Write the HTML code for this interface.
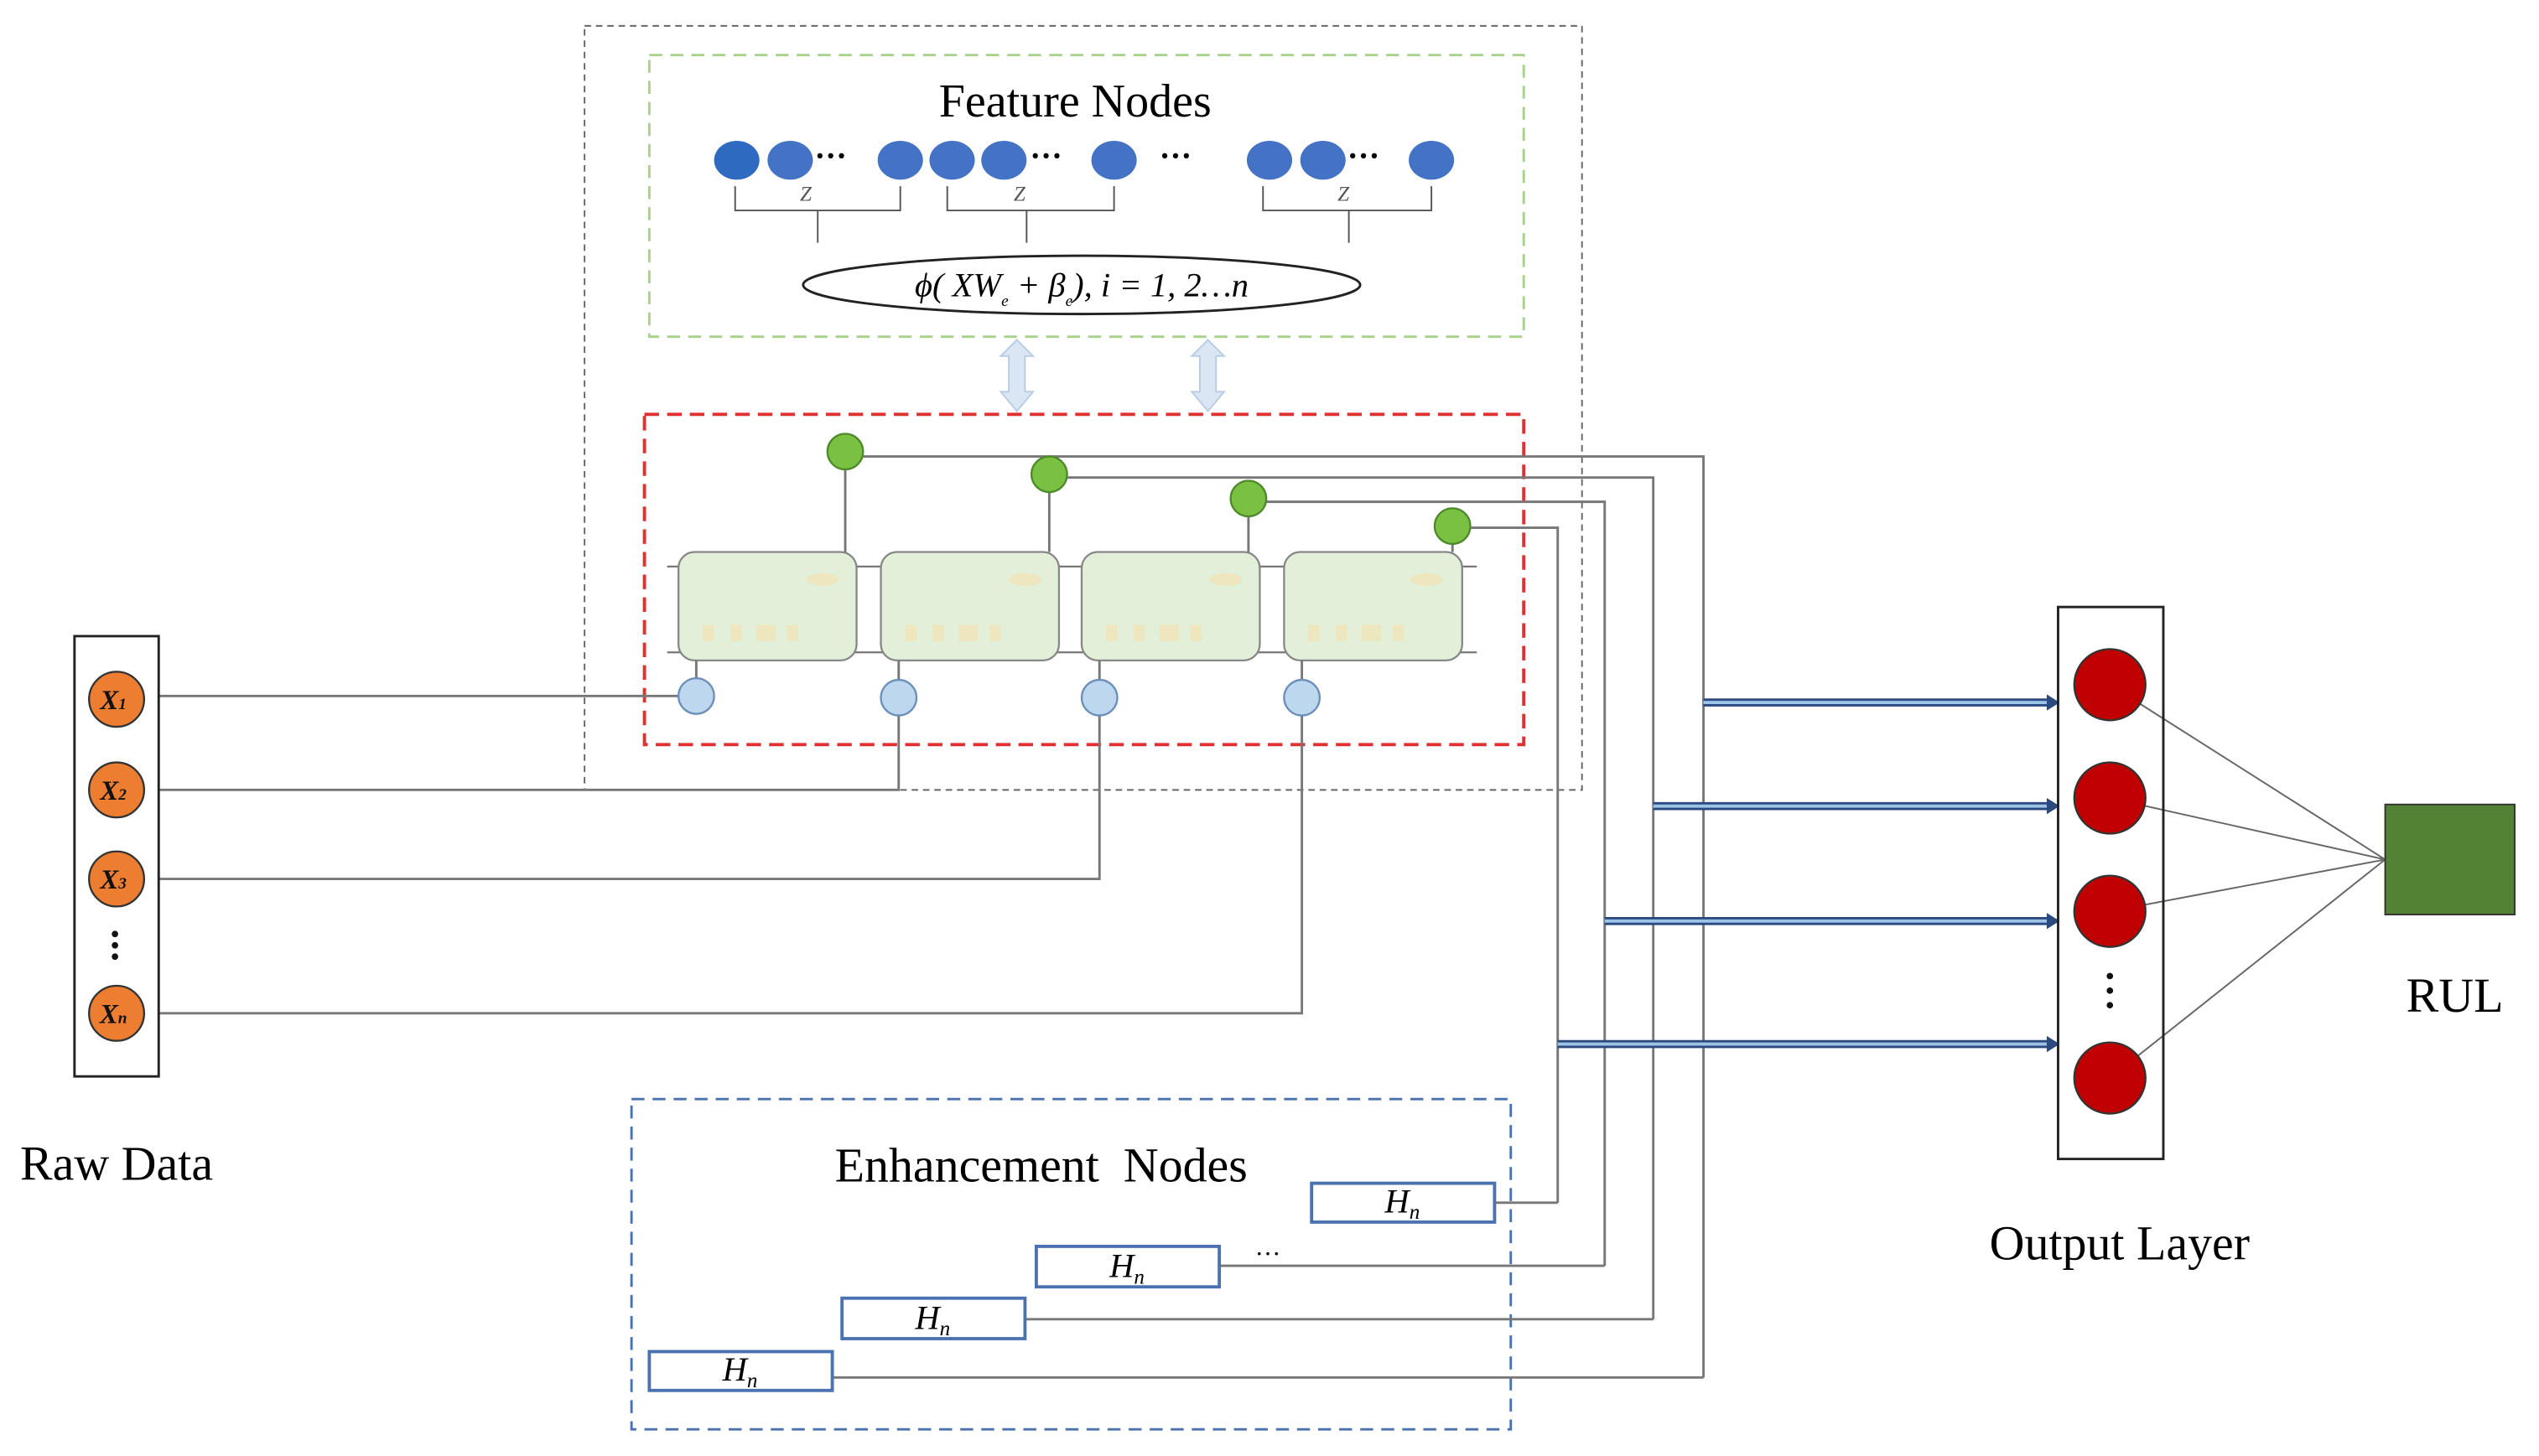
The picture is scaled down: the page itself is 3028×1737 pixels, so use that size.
<!DOCTYPE html>
<html><head><style>html,body{margin:0;padding:0;background:#fff}svg{display:block}</style></head><body>
<svg width="3028" height="1737" viewBox="0 0 1568 899.5" preserveAspectRatio="none" xmlns="http://www.w3.org/2000/svg" font-family="'Liberation Serif', serif">
<rect x="361" y="16" width="616" height="472" fill="none" stroke="#666" stroke-width="1" stroke-dasharray="4,3"/>
<rect x="401" y="34" width="540" height="174" fill="none" stroke="#a9d18e" stroke-width="1.5" stroke-dasharray="8,5"/>
<rect x="398" y="256" width="543" height="204" fill="none" stroke="#e03030" stroke-width="2" stroke-dasharray="9,5"/>
<rect x="390" y="679" width="543" height="204" fill="none" stroke="#4a72b0" stroke-width="1.5" stroke-dasharray="8,5"/>
<text x="664" y="72" font-size="29" text-anchor="middle">Feature Nodes</text>
<g fill="#4472c4">
<ellipse cx="455" cy="99" rx="14" ry="12" fill="#2e6bc0"/><ellipse cx="488" cy="99" rx="14" ry="12"/><ellipse cx="556" cy="99" rx="14" ry="12"/>
<ellipse cx="588" cy="99" rx="14" ry="12"/><ellipse cx="620" cy="99" rx="14" ry="12"/><ellipse cx="688" cy="99" rx="14" ry="12"/>
<ellipse cx="784" cy="99" rx="14" ry="12"/><ellipse cx="817" cy="99" rx="14" ry="12"/><ellipse cx="884" cy="99" rx="14" ry="12"/>
</g>
<g font-size="20" font-weight="bold" fill="#000">
<text x="503" y="103">···</text><text x="636" y="103">···</text><text x="716" y="103">···</text><text x="832" y="103">···</text>
</g>
<g fill="none" stroke="#555" stroke-width="1">
<path d="M454 115V130H556V115M505 130V150"/>
<path d="M585 115V130H688V115M634 130V150"/>
<path d="M780 115V130H884V115M833 130V150"/>
</g>
<g font-size="13" font-style="italic" fill="#555"><text x="494" y="124">Z</text><text x="626" y="124">Z</text><text x="826" y="124">Z</text></g>
<ellipse cx="668" cy="176" rx="172" ry="18" fill="#fff" stroke="#222" stroke-width="1.5"/>
<text x="668" y="183" font-size="21" font-style="italic" text-anchor="middle">ϕ( XW<tspan font-size="10" dy="6">e</tspan><tspan dy="-6"> + β</tspan><tspan font-size="10" dy="6">e</tspan><tspan dy="-6">), i = 1, 2…n</tspan></text>
<g fill="#dbe6f4" stroke="#b8cce4" stroke-width="1">
<path d="M628 210l10 10h-5v22h5l-10 12-10-12h5v-22h-5z"/>
<path d="M746 210l10 10h-5v22h5l-10 12-10-12h5v-22h-5z"/>
</g>
<g stroke="#777" stroke-width="1.2"><line x1="412" y1="350" x2="912" y2="350"/><line x1="412" y1="403" x2="912" y2="403"/></g>
<g fill="#e3f0d9" stroke="#888" stroke-width="1.2">
<rect x="419" y="341" width="110" height="67" rx="10"/><rect x="544" y="341" width="110" height="67" rx="10"/>
<rect x="668" y="341" width="110" height="67" rx="10"/><rect x="793" y="341" width="110" height="67" rx="10"/>
</g>
<g fill="#f0e4b8" opacity="0.8">
<rect x="434" y="386" width="7" height="10"/><rect x="451" y="386" width="7" height="10"/><rect x="467" y="386" width="12" height="10"/><rect x="486" y="386" width="7" height="10"/>
<rect x="559" y="386" width="7" height="10"/><rect x="576" y="386" width="7" height="10"/><rect x="592" y="386" width="12" height="10"/><rect x="611" y="386" width="7" height="10"/>
<rect x="683" y="386" width="7" height="10"/><rect x="700" y="386" width="7" height="10"/><rect x="716" y="386" width="12" height="10"/><rect x="735" y="386" width="7" height="10"/>
<rect x="808" y="386" width="7" height="10"/><rect x="825" y="386" width="7" height="10"/><rect x="841" y="386" width="12" height="10"/><rect x="860" y="386" width="7" height="10"/>
<ellipse cx="508" cy="358" rx="10" ry="4"/><ellipse cx="633" cy="358" rx="10" ry="4"/><ellipse cx="757" cy="358" rx="10" ry="4"/><ellipse cx="881" cy="358" rx="10" ry="4"/>
</g>
<g fill="none" stroke="#777" stroke-width="1.5">
<path d="M522 282H1052V851"/><path d="M648 295H1021V815"/><path d="M771 310H991V782"/><path d="M897 326H962V743"/>
<path d="M522 282V341M648 295V341M771 310V341M897 326V341"/>
</g>
<g fill="#7ac143" stroke="#4e8a2a" stroke-width="1.2">
<circle cx="522" cy="279" r="11"/><circle cx="648" cy="293" r="11"/><circle cx="771" cy="308" r="11"/><circle cx="897" cy="325" r="11"/>
</g>
<g fill="none" stroke="#777" stroke-width="1.5">
<path d="M98 430H430"/><path d="M98 488H555V431"/><path d="M98 543H679V431"/><path d="M98 626H804V431"/>
<path d="M430 408V420M555 408V420M679 408V420M804 408V420"/>
</g>
<g fill="#bdd7ee" stroke="#6d8fb8" stroke-width="1.2">
<ellipse cx="430" cy="430" rx="11" ry="11"/><ellipse cx="555" cy="431" rx="11" ry="11"/><ellipse cx="679" cy="431" rx="11" ry="11"/><ellipse cx="804" cy="431" rx="11" ry="11"/>
</g>
<rect x="46" y="393" width="52" height="272" fill="#fff" stroke="#222" stroke-width="1.5"/>
<g fill="#ed7d31" stroke="#333" stroke-width="1.2">
<circle cx="72" cy="432" r="17"/><circle cx="72" cy="488" r="17"/><circle cx="72" cy="543" r="17"/><circle cx="72" cy="626" r="17"/>
</g>
<g font-size="17" font-style="italic" font-weight="bold" text-anchor="middle" fill="#111">
<text x="70" y="438">X<tspan font-size="10">1</tspan></text><text x="70" y="494">X<tspan font-size="10">2</tspan></text>
<text x="70" y="549">X<tspan font-size="10">3</tspan></text><text x="70" y="632">X<tspan font-size="10">n</tspan></text>
</g>
<g fill="#111"><circle cx="71" cy="577" r="2"/><circle cx="71" cy="584" r="2"/><circle cx="71" cy="591" r="2"/></g>
<text x="72" y="729" font-size="30" text-anchor="middle">Raw Data</text>
<text x="643" y="730" font-size="30" text-anchor="middle" xml:space="preserve">Enhancement  Nodes</text>
<g fill="none" stroke="#777" stroke-width="1.5">
<path d="M923 743H962"/><path d="M753 782H991"/><path d="M633 815H1021"/><path d="M514 851H1052"/>
</g>
<g fill="#fff" stroke="#4a72b0" stroke-width="2">
<rect x="810" y="731" width="113" height="24"/><rect x="640" y="770" width="113" height="25"/>
<rect x="520" y="802" width="113" height="25"/><rect x="401" y="835" width="113" height="24"/>
</g>
<g font-size="21" font-style="italic" text-anchor="middle">
<text x="866" y="749">H<tspan font-size="13" dy="4">n</tspan></text><text x="696" y="789">H<tspan font-size="13" dy="4">n</tspan></text>
<text x="576" y="821">H<tspan font-size="13" dy="4">n</tspan></text><text x="457" y="853">H<tspan font-size="13" dy="4">n</tspan></text>
</g>
<text x="775" y="780" font-size="16">···</text>
<g stroke="#2a4a80" stroke-width="5"><path d="M1052 434H1266M1021 498H1266M991 569H1266M962 645H1266"/></g>
<g stroke="#9dc3e6" stroke-width="2"><path d="M1052 434H1266M1021 498H1266M991 569H1266M962 645H1266"/></g>
<g fill="#2a4a80"><path d="M1264 429l8 5-8 5z"/><path d="M1264 493l8 5-8 5z"/><path d="M1264 564l8 5-8 5z"/><path d="M1264 640l8 5-8 5z"/></g>
<g stroke="#666" stroke-width="1"><path d="M1303 423L1473 531M1303 493L1473 531M1303 563L1473 531M1303 666L1473 531"/></g>
<rect x="1271" y="375" width="65" height="341" fill="none" stroke="#222" stroke-width="1.5"/>
<g fill="#c00000" stroke="#333" stroke-width="1.2">
<circle cx="1303" cy="423" r="22"/><circle cx="1303" cy="493" r="22"/><circle cx="1303" cy="563" r="22"/><circle cx="1303" cy="666" r="22"/>
</g>
<g fill="#111"><circle cx="1303" cy="603" r="2"/><circle cx="1303" cy="612" r="2"/><circle cx="1303" cy="621" r="2"/></g>
<text x="1309" y="778" font-size="30" text-anchor="middle">Output Layer</text>
<rect x="1473" y="497" width="80" height="68" fill="#548235" stroke="#333" stroke-width="1"/>
<text x="1516" y="625" font-size="30" text-anchor="middle">RUL</text>
</svg>
</body></html>
